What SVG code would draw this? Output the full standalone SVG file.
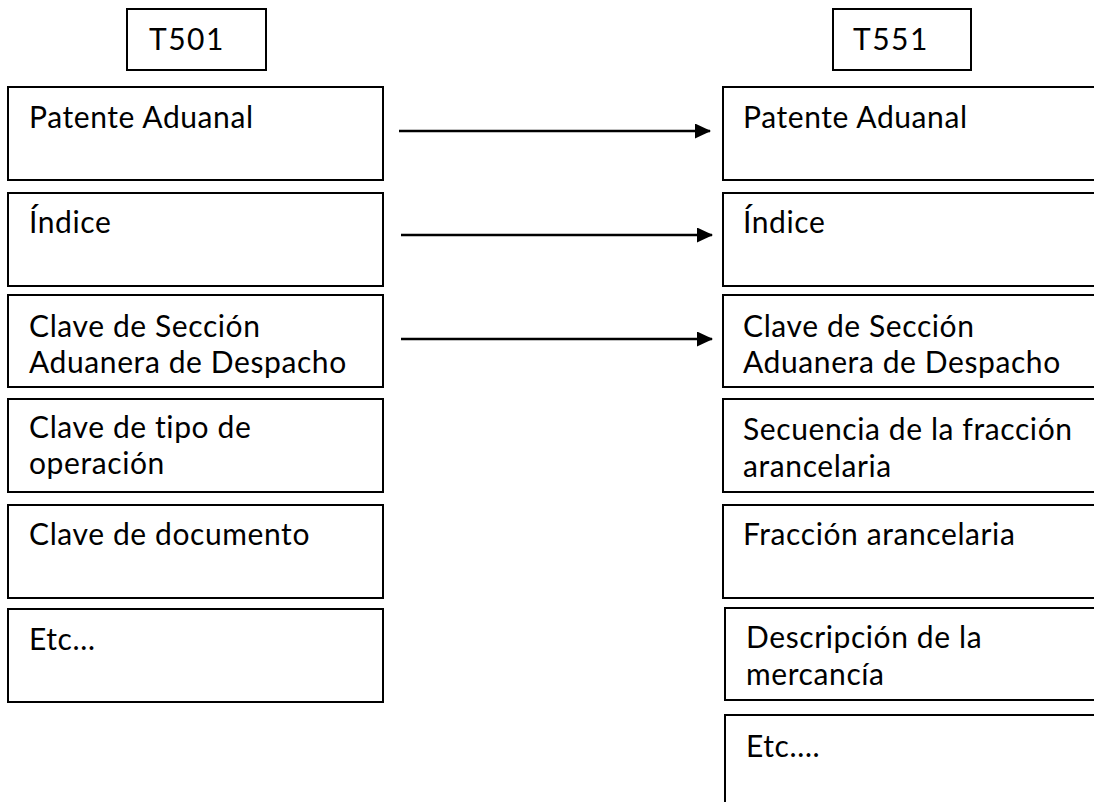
<svg xmlns="http://www.w3.org/2000/svg" width="1094" height="802" viewBox="0 0 1094 802">
<style>
.b{fill:#fff;stroke:#000;stroke-width:2}
.t{font-family:Lato,"Open Sans",sans-serif;font-size:30px;letter-spacing:0.6px;fill:#000}
.h{font-family:Lato,"Open Sans",sans-serif;font-size:30px;letter-spacing:1.5px;fill:#000}
.c{stroke:#000;stroke-width:2.5;fill:none}
</style>
<defs>
<marker id="a" markerWidth="16" markerHeight="15" refX="15" refY="7.5" orient="auto" markerUnits="userSpaceOnUse">
<path d="M0,0 L16,7.5 L0,15 Z" fill="#000"/>
</marker>
</defs>
<rect width="1094" height="802" fill="#fff"/>
<g id="t501"><rect class="b" x="127" y="9" width="139" height="61"/><text class="h" x="149" y="50">T501</text></g>
<g id="t551"><rect class="b" x="833" y="9" width="138" height="61"/><text class="h" x="853" y="50">T551</text></g>
<g id="l1"><rect class="b" x="8" y="87" width="375" height="93"/><text class="t" x="29" y="128">Patente Aduanal</text></g>
<g id="l2"><rect class="b" x="8" y="193" width="375" height="93"/><text class="t" x="29" y="233">Índice</text></g>
<g id="l3"><rect class="b" x="8" y="295" width="375" height="92"/><text class="t" x="29" y="337">Clave de Sección</text><text class="t" x="29" y="373">Aduanera de Despacho</text></g>
<g id="l4"><rect class="b" x="8" y="399" width="375" height="93"/><text class="t" x="29" y="438">Clave de tipo de</text><text class="t" x="29" y="474">operación</text></g>
<g id="l5"><rect class="b" x="8" y="505" width="375" height="93"/><text class="t" x="29" y="545">Clave de documento</text></g>
<g id="l6"><rect class="b" x="8" y="609" width="375" height="93"/><text class="t" x="29" y="650">Etc…</text></g>
<g id="r1"><rect class="b" x="723" y="87" width="380" height="93"/><text class="t" x="743" y="128">Patente Aduanal</text></g>
<g id="r2"><rect class="b" x="723" y="193" width="380" height="93"/><text class="t" x="743" y="233">Índice</text></g>
<g id="r3"><rect class="b" x="723" y="295" width="380" height="92"/><text class="t" x="743" y="337">Clave de Sección</text><text class="t" x="743" y="373">Aduanera de Despacho</text></g>
<g id="r4"><rect class="b" x="723" y="399" width="380" height="93"/><text class="t" x="743" y="440">Secuencia de la fracción</text><text class="t" x="743" y="477">arancelaria</text></g>
<g id="r5"><rect class="b" x="723" y="505" width="380" height="93"/><text class="t" x="743" y="545">Fracción arancelaria</text></g>
<g id="r6"><rect class="b" x="725" y="608" width="380" height="92"/><text class="t" x="746" y="648">Descripción de la</text><text class="t" x="746" y="685">mercancía</text></g>
<g id="r7"><rect class="b" x="725" y="715" width="380" height="100"/><text class="t" x="746" y="757">Etc….</text></g>
<g id="connectors">
<line class="c" x1="399" y1="131" x2="710" y2="131" marker-end="url(#a)"/>
<line class="c" x1="401" y1="235" x2="712" y2="235" marker-end="url(#a)"/>
<line class="c" x1="401" y1="339" x2="712" y2="339" marker-end="url(#a)"/>
</g>
</svg>
